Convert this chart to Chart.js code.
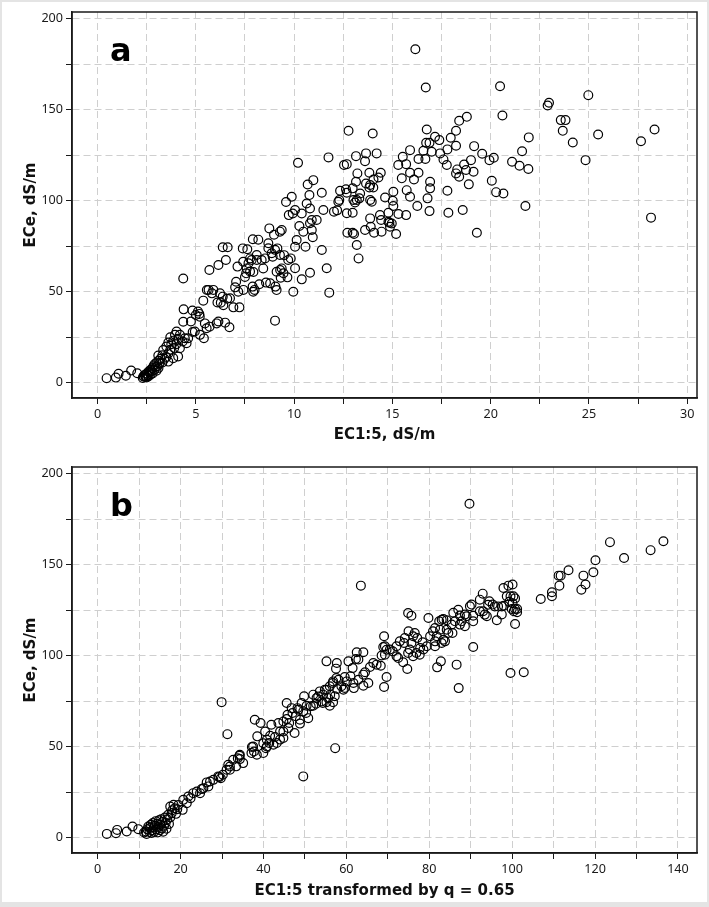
<!DOCTYPE html>
<html>
<head>
<meta charset="utf-8">
<script src="https://cdn.jsdelivr.net/npm/chart.js@4"></script>
<style>
  body { margin: 0; background: #fff; }
  #page { position: relative; width: 709px; height: 907px; overflow: hidden; }
  #page canvas { position: absolute; left: 0; }
  #edge { position: absolute; left: 0; top: 0; width: 709px; height: 907px; box-sizing: border-box;
          border: 2px solid #e4e4e4; border-bottom-width: 5px; pointer-events: none; }
</style>
</head>
<body>
<div id="page">
  <canvas id="chartA" width="709" height="448" style="top:0"></canvas>
  <canvas id="chartB" width="709" height="453" style="top:450px"></canvas>
  <div id="edge"></div>
</div>
<script>
// panel a: EC1:5 (dS/m) vs ECe (dS/m)
const pointsA = [
  [0.46,2.4],[0.93,2.7],[1.07,4.8],[1.44,3.7],[1.71,6.6],[2.02,5.1],[2.33,3.3],
  [2.3,2.5],[2.35,3.5],[2.4,4.2],[2.45,3.0],[2.5,5.0],[2.5,2.8],[2.55,4.0],[2.6,6.0],[2.6,3.5],[2.65,5.5],
  [2.7,7.0],[2.7,4.5],[2.75,6.2],[2.8,8.0],[2.8,5.0],[2.85,9.0],[2.9,7.0],[2.9,10.0],[2.95,8.5],[3.0,11.0],
  [3.0,6.5],[3.05,9.0],[3.1,12.0],[3.1,8.0],[3.15,10.5],[3.2,13.0],[3.09,14.8],[3.3,15.0],[3.3,11.0],
  [3.34,17.9],[3.4,13.0],[3.5,19.8],[3.5,14.0],[3.6,11.5],[3.6,22.0],[3.6,16.0],[3.7,24.9],[3.7,18.0],
  [3.75,21.0],[3.85,13.4],[3.85,23.0],[3.9,19.0],[3.94,26.2],[4.02,28.0],[4.0,21.0],[4.1,14.3],[4.1,24.0],
  [4.19,18.8],[4.19,26.2],[4.33,22.5],[4.36,57.2],[4.38,40.2],[4.36,33.4],[4.44,24.3],[4.53,21.6],
  [4.61,24.3],[4.84,27.8],[4.95,28.0],
  [4.75,33.5],[4.83,39.6],[5.0,37.1],[5.11,39.0],[5.18,37.7],[5.2,36.2],[5.21,26.2],[5.38,45.0],[5.41,24.3],
  [5.46,32.5],[5.55,29.8],[5.56,50.8],[5.65,50.9],[5.69,61.8],[5.7,30.7],[5.82,49.0],[5.89,50.9],[6.06,32.5],
  [6.1,44.0],[6.15,64.6],[6.15,33.5],[6.23,49.0],[6.27,43.9],[6.37,74.3],[6.37,47.2],[6.4,42.5],[6.49,32.9],
  [6.53,67.3],[6.6,46.0],[6.62,74.3],[6.71,30.4],[6.74,46.3],[6.91,41.3],[7.0,52.3],[7.05,55.4],[7.12,63.7],
  [7.16,49.9],[7.22,41.3],[7.39,73.7],[7.41,66.4],[7.42,50.9],[7.5,58.0],[7.56,60.0],[7.59,62.7],[7.62,73.2],
  [7.68,65.5],[7.76,68.2],[7.76,61.0],[7.84,67.3],[7.89,52.7],[7.9,78.7],[7.92,49.9],[7.93,60.7],[7.99,50.9],
  [8.1,70.1],[8.1,67.3],[8.18,78.5],[8.23,54.0],[8.35,67.3],[8.43,62.7],[8.52,68.2],[8.57,54.9],[8.69,76.5],
  [8.69,73.8],[8.74,84.7],[8.78,54.5],[8.86,71.0],[8.91,69.1],[8.98,81.2],[9.03,34.0],[9.03,72.9],[9.05,52.7],
  [9.11,60.9],[9.11,50.8],[9.15,73.7],[9.28,82.9],[9.28,70.1],[9.29,61.8],[9.32,57.6],[9.37,83.8],[9.37,62.7],
  [9.46,60.0],[9.49,70.0],[9.59,99.2],[9.66,57.8],[9.7,67.3],[9.73,92.0],[9.83,68.2],[9.88,102.1],[9.93,92.9],
  [9.96,49.9],[10.05,94.8],[10.05,62.8],[10.05,74.6],[10.13,78.3],[10.2,120.7],[10.27,86.0],[10.39,56.7],
  [10.39,92.9],[10.47,82.9],[10.58,74.6],[10.64,98.4],[10.69,108.8],[10.78,103.0],[10.81,95.6],[10.81,87.5],
  [10.81,60.3],[10.9,89.3],[10.9,83.8],[10.95,79.8],[10.98,111.2],[11.15,89.3],[11.41,72.8],[11.41,104.3],
  [11.49,94.8],[11.66,62.8],[11.75,123.7],[11.79,49.4],[12.03,93.9],[12.19,94.6],[12.25,99.3],[12.3,100.3],
  [12.34,105.4],[12.54,119.5],[12.68,120.0],[12.64,106.2],[12.68,104.3],[12.68,93.0],[12.71,82.3],[12.77,138.3],
  [12.98,106.7],[12.98,93.3],[12.98,82.3],[13.02,100.3],[13.05,81.6],[13.1,98.9],[13.15,110.3],[13.15,124.4],
  [13.19,75.6],[13.19,100.3],[13.22,114.9],[13.28,68.2],[13.32,101.2],[13.36,103.9],[13.61,121.6],[13.61,83.8],
  [13.66,125.9],[13.66,109.4],[13.83,115.3],[13.83,107.2],[13.87,108.5],[13.87,100.3],[13.87,90.2],[13.9,85.6],
  [13.95,99.3],[14.0,136.8],[14.03,107.2],[14.04,111.6],[14.07,82.3],[14.2,125.9],[14.29,112.7],[14.37,92.0],
  [14.41,115.3],[14.43,89.3],[14.45,82.9],[14.63,101.7],[14.8,93.3],[14.8,88.3],[14.85,87.8],[14.88,85.6],
  [14.97,87.4],[15.02,99.9],[15.05,97.0],[15.05,104.8],[15.19,81.6],[15.3,119.5],[15.31,92.6],[15.48,112.2],
  [15.53,124.0],[15.7,120.0],[15.7,92.0],[15.73,105.7],[15.9,127.7],[15.9,115.3],[15.9,102.1],[16.1,111.6],
  [16.17,183.1],[16.27,97.0],[16.33,122.8],[16.33,115.3],[16.58,127.4],[16.68,122.8],[16.7,162.1],[16.72,131.7],
  [16.75,139.0],[16.79,101.2],[16.89,94.2],[16.89,131.7],[16.92,110.3],[16.92,106.7],[17.0,126.8],[17.17,135.0],
  [17.39,133.2],[17.43,125.9],[17.6,122.6],[17.77,119.5],[17.8,128.1],[17.8,105.4],[17.85,93.3],[17.97,134.5],
  [18.24,138.3],[18.24,130.1],[18.24,114.9],[18.3,117.1],[18.4,143.8],[18.4,113.1],[18.58,94.8],[18.65,119.8],
  [18.79,146.0],[18.75,116.8],[18.89,108.9],[19.0,122.2],[19.13,115.8],[19.16,129.9],[19.3,82.3],[19.57,125.7],
  [19.94,122.2],[20.06,110.9],[20.16,123.5],[20.28,104.6],[20.48,162.8],[20.6,146.7],[20.65,103.9],[21.09,121.3],
  [21.47,119.1],[21.6,127.1],[21.77,97.0],[21.92,117.3],[21.94,134.7],[22.9,152.2],[22.97,153.7],[23.57,144.2],
  [23.67,138.3],[23.81,144.2],[24.18,131.9],[24.83,122.2],[24.97,157.9],[25.47,136.3],[27.65,132.6],[28.16,90.6],
  [28.34,139.0]
];

// panel b: EC1:5 transformed by q = 0.65 vs ECe (dS/m)
const pointsB = [
  [2.2,2.0],[4.4,2.4],[4.7,4.2],[7.0,3.3],[8.4,6.1],[9.8,4.6],[11.2,2.8],
  [11.6,3.3],[11.8,2.0],[12.0,4.5],[12.2,6.0],[12.5,3.0],[12.6,5.2],[12.8,7.0],[13.0,2.5],[13.2,4.0],[13.3,8.0],
  [13.5,5.5],[13.6,3.0],[13.8,6.5],[14.0,9.0],[14.1,4.5],[14.3,7.5],[14.5,2.8],[14.6,5.8],[14.8,9.5],[15.0,4.0],
  [15.1,7.0],[15.3,10.0],[15.5,5.0],[15.6,8.5],[15.8,3.2],[16.0,6.5],[16.2,11.0],[16.4,8.0],[16.6,4.8],[16.8,10.0],
  [17.0,12.5],[17.2,7.5],[17.5,17.0],[17.5,11.0],[17.85,13.4],[18.0,15.0],[18.3,18.0],[18.6,16.1],[18.9,13.0],
  [19.2,15.5],[19.45,17.9],[20.5,15.2],[20.65,20.7],[21.5,18.9],[21.86,22.5],[22.4,21.6],[23.06,24.4],[23.9,25.3],
  [24.7,24.4],[25.09,26.6],[25.5,27.1],[26.3,30.3],[26.7,28.1],[27.1,30.8],[27.9,31.7],[29.1,33.6],[29.3,33.2],
  [29.7,32.6],[29.9,74.4],[30.2,34.5],[31.1,37.2],[31.3,56.8],[31.5,40.0],[31.9,37.2],[31.9,39.0],[32.7,42.7],
  [33.4,39.1],[33.8,43.6],[34.2,44.9],[34.3,43.1],[34.3,45.5],[35.1,40.9],
  [37.1,46.4],[37.2,49.7],[37.5,50.0],[37.7,47.3],[37.9,64.7],[38.4,45.5],[38.5,55.6],[39.3,62.9],[39.96,51.8],
  [39.96,46.4],[40.4,58.3],[40.6,49.1],[40.8,53.7],[40.8,50.0],[41.4,51.9],[41.6,55.9],[41.9,62.0],[42.4,51.0],
  [42.8,55.2],[43.2,51.9],[43.6,62.9],[44.0,58.3],[44.0,53.8],[44.8,63.8],[44.8,58.3],[44.8,54.7],[45.6,73.9],
  [45.6,65.1],[45.8,67.5],[46.0,60.2],[46.2,62.9],[46.8,71.1],[47.0,68.4],[47.5,57.4],[47.8,66.6],[48.2,71.1],
  [48.4,70.2],[48.8,64.7],[48.8,62.6],[49.2,73.9],[49.6,69.3],[49.6,33.6],[49.8,77.6],[50.3,68.4],[50.4,72.4],
  [50.8,65.6],[51.4,72.1],[52.0,78.5],[52.0,72.4],[52.7,73.5],[52.8,76.6],[53.2,77.5],[53.6,80.3],[54.0,74.8],
  [54.3,73.9],[54.4,78.5],[54.8,81.2],[55.2,96.8],[55.2,81.2],[55.2,74.3],[55.6,76.6],[56.0,83.1],[56.0,72.4],
  [56.1,78.5],[56.7,84.9],[56.8,85.8],[56.8,74.3],[57.2,77.6],[57.3,49.1],[57.5,92.8],[57.7,95.9],[57.6,87.6],
  [57.8,81.6],[58.1,86.7],[58.8,83.1],[59.3,81.2],[59.6,88.2],[59.6,82.2],[60.1,85.8],[60.5,96.8],[61.0,88.6],
  [61.5,93.1],[61.7,84.9],[61.8,82.1],[62.3,98.1],[62.5,101.8],[62.9,97.8],[62.9,86.7],[63.5,138.4],[64.1,101.8],
  [64.1,89.5],[64.1,83.4],[64.5,90.8],[65.3,84.9],[65.7,93.7],[66.5,95.9],[67.3,95.0],[68.3,94.4],[68.5,100.0],
  [68.9,104.7],[69.1,110.6],[69.1,82.7],[69.3,100.5],[69.3,105.1],[69.7,103.2],[69.7,88.2],[70.5,103.3],
  [71.2,102.3],[72.1,99.6],[72.1,105.1],[72.5,98.6],[72.9,107.8],[73.7,96.3],[73.9,106.9],[74.1,109.6],
  [74.7,92.6],[74.9,123.4],[74.9,101.4],[75.0,113.3],[75.3,103.3],[75.7,121.9],[75.7,106.9],[76.1,110.6],
  [76.1,99.6],[76.5,112.4],[76.9,101.4],[77.1,109.6],[77.7,100.5],[77.8,104.1],[78.4,107.3],[78.6,103.3],
  [79.4,105.1],[79.8,120.6],[80.2,110.6],[80.9,113.3],[81.4,115.1],[81.4,107.8],[81.4,105.1],[81.8,110.6],
  [81.9,93.5],[82.4,118.8],[82.6,114.2],[82.8,96.8],[83.0,119.7],[83.0,106.9],[83.4,120.1],[83.4,108.7],
  [83.8,107.8],[84.2,114.2],[84.2,119.4],[84.6,112.4],[85.4,117.0],[85.6,112.4],[85.8,123.5],[86.2,118.8],
  [86.6,95.0],[87.0,125.2],[87.1,82.1],[87.4,117.0],[87.4,122.0],[87.8,118.8],[88.6,116.1],[88.6,122.5],
  [89.0,121.6],[89.7,183.4],[89.8,127.1],[90.2,128.0],[90.6,104.7],[90.6,118.8],[90.6,121.9],[92.2,130.7],
  [92.2,124.3],[92.9,134.0],[93.0,124.3],[93.4,122.5],[93.9,121.6],[94.2,127.9],[94.5,129.8],[95.3,128.0],
  [95.8,127.0],[96.3,119.4],[96.6,127.0],[97.5,127.0],[97.5,122.6],[97.9,137.1],[98.0,127.4],[98.7,132.6],
  [99.1,138.4],[99.3,129.5],[99.6,132.6],[99.6,90.4],[99.9,125.6],[100.1,139.0],[100.1,128.7],[100.3,132.6],
  [100.4,124.3],[100.7,131.4],[100.7,125.6],[100.7,117.3],[101.2,125.6],[101.2,123.8],[102.8,90.8],[106.9,131.1],
  [109.6,134.8],[109.6,132.6],[111.2,143.9],[111.4,138.4],[111.7,143.9],[113.6,146.9],[116.7,136.2],[117.2,143.9],
  [117.7,139.0],[119.6,145.8],[120.1,152.4],[123.6,162.3],[127.0,153.6],[133.4,157.9],[136.5,162.8]
];

// axis ticks (every tick gets a grid line, only the majors get a label)
const yTicks = [0, 25, 50, 75, 100, 125, 150, 175, 200];
const yLabelStep = 50;
const xTicksA = [0, 2.5, 5, 7.5, 10, 12.5, 15, 17.5, 20, 22.5, 25, 27.5, 30];
const xLabelStepA = 5;
const xTicksB = [0, 10, 20, 30, 40, 50, 60, 70, 80, 90, 100, 110, 120, 130, 140];
const xLabelStepB = 20;

const yRange = [-8.5, 203.6];
const xRangeA = [-1.3, 30.5];
const xRangeB = [-6.2, 144.6];

const FONT = '"DejaVu Sans", Verdana, sans-serif';
const TICK_FONT = '"Noto Sans", "DejaVu Sans", sans-serif';
const INK = '#1a1a1a';

const framePlugin = {
  id: 'frame',
  afterDraw(chart, args, opts) {
    const { ctx, chartArea: a } = chart;
    ctx.save();
    ctx.strokeStyle = INK;
    ctx.lineWidth = 1.5;
    ctx.strokeRect(a.left, a.top, a.right - a.left, a.bottom - a.top);
    ctx.font = 'bold 32px ' + FONT;
    ctx.fillStyle = '#000';
    ctx.textBaseline = 'alphabetic';
    ctx.fillText(opts.letter, a.left + 38, a.top + 49);
    ctx.restore();
  }
};

function axis(ticks, step, range, title, size, horizontal, titlePad) {
  return {
    type: 'linear',
    min: range[0],
    max: range[1],
    afterBuildTicks: s => { s.ticks = ticks.map(v => ({ value: v })); },
    afterFit: s => { if (horizontal) s.height = size; else s.width = size; },
    ticks: {
      autoSkip: false,
      maxRotation: 0,
      minRotation: 0,
      padding: 3,
      color: INK,
      font: { family: TICK_FONT, size: 12.6 },
      callback: v => (v % step === 0 ? String(v) : '')
    },
    grid: {
      color: '#cfcfcf',
      lineWidth: 1,
      tickLength: 6,
      tickColor: INK,
      tickWidth: 1,
      tickBorderDash: []
    },
    border: { display: true, color: INK, width: 1.5, dash: [7, 4] },
    title: {
      display: true,
      text: title,
      color: '#111',
      font: { family: FONT, size: 15, weight: 'bold' },
      padding: horizontal ? { top: 0, bottom: titlePad } : { top: 22, bottom: 0 }
    }
  };
}

function makeChart(id, points, xTicks, xStep, xRange, xTitle, letter, padTop, titlePad) {
  return new Chart(document.getElementById(id), {
    type: 'scatter',
    data: {
      datasets: [{
        data: points.map(p => ({ x: p[0], y: p[1] })),
        pointRadius: 4.4,
        pointBorderWidth: 1.2,
        borderColor: '#000',
        backgroundColor: 'rgba(0,0,0,0)',
        pointHoverRadius: 4.4
      }]
    },
    options: {
      responsive: false,
      animation: false,
      layout: { padding: { top: padTop, right: 12, left: 0, bottom: 0 } },
      plugins: {
        legend: { display: false },
        tooltip: { enabled: false },
        frame: { letter: letter }
      },
      scales: {
        x: axis(xTicks, xStep, xRange, xTitle, 50, true, titlePad),
        y: axis(yTicks, yLabelStep, yRange, 'ECe, dS/m', 72, false, 0)
      }
    },
    plugins: [framePlugin]
  });
}

makeChart('chartA', pointsA, xTicksA, xLabelStepA, xRangeA, 'EC1:5, dS/m', 'a', 12, 4);
makeChart('chartB', pointsB, xTicksB, xLabelStepB, xRangeB, 'EC1:5 transformed by q = 0.65', 'b', 17, 3);
</script>
</body>
</html>
